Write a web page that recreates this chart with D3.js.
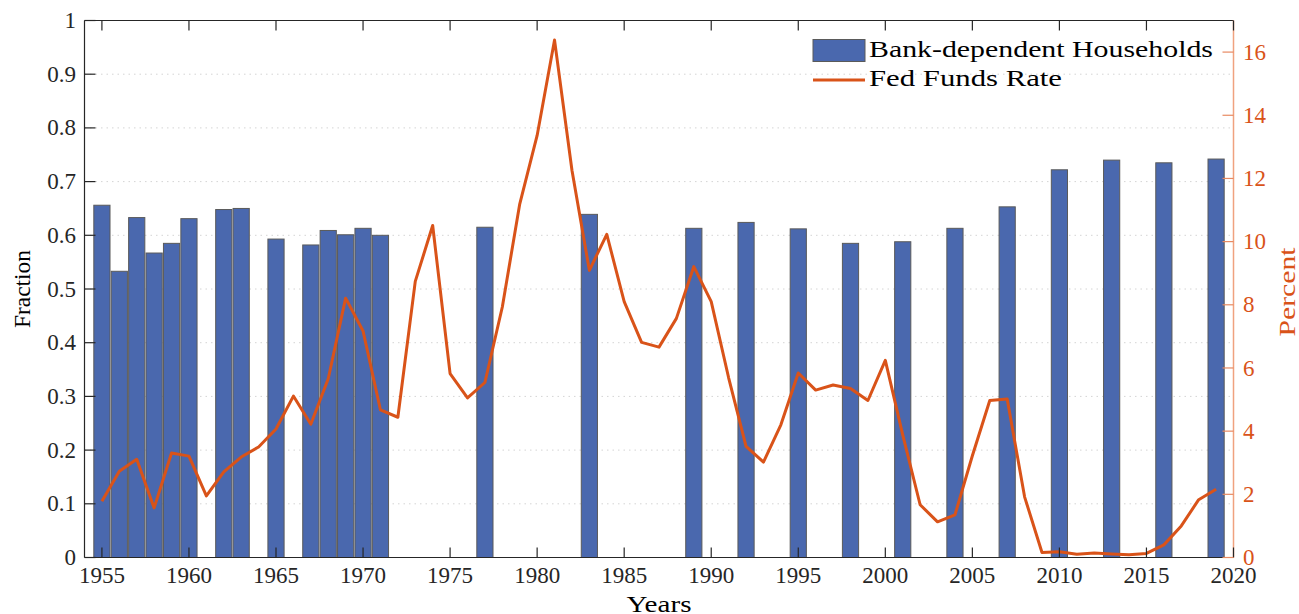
<!DOCTYPE html>
<html><head><meta charset="utf-8">
<script src="https://cdn.jsdelivr.net/npm/d3@7"></script>
<style>
html,body{margin:0;padding:0;background:#fff;}
svg{display:block;font-family:"Liberation Serif","Times New Roman",serif;}
</style></head>
<body>
<svg id="chart" width="1299" height="614"></svg>
<script>
// ---- data ----
const barYears = [1955,1956,1957,1958,1959,1960,1962,1963,1965,1967,1968,1969,1970,1971,1977,1983,1989,1992,1995,1998,2001,2004,2007,2010,2013,2016,2019];
const barValues = [0.656,0.533,0.633,0.567,0.585,0.631,0.648,0.650,0.593,0.582,0.609,0.601,0.613,0.600,0.615,0.639,0.613,0.624,0.612,0.585,0.588,0.613,0.653,0.722,0.740,0.735,0.742];
const rateYears = d3.range(1955, 2020);
const rateValues = [1.78,2.73,3.11,1.57,3.31,3.21,1.95,2.71,3.18,3.50,4.07,5.11,4.22,5.66,8.21,7.17,4.67,4.44,8.74,10.51,5.82,5.05,5.54,7.93,11.19,13.36,16.38,12.26,9.09,10.23,8.10,6.81,6.66,7.57,9.21,8.10,5.69,3.52,3.02,4.20,5.84,5.30,5.46,5.35,4.97,6.24,3.88,1.67,1.13,1.35,3.22,4.97,5.02,1.92,0.16,0.18,0.10,0.14,0.11,0.09,0.13,0.40,1.00,1.83,2.16];
const xTicks = [1955,1960,1965,1970,1975,1980,1985,1990,1995,2000,2005,2010,2015,2020];
const yLeftTicks = [0,0.1,0.2,0.3,0.4,0.5,0.6,0.7,0.8,0.9,1];
const yRightTicks = [0,2,4,6,8,10,12,14,16];
const legendLabels = ["Bank-dependent Households","Fed Funds Rate"];

// ---- layout ----
const L = 84.5, R = 1233.5, T = 20.5, B = 557.5;
const svg = d3.select("#chart");
const x = d3.scaleLinear().domain([1954, 2020]).range([L, R]);
const yL = d3.scaleLinear().domain([0, 1]).range([B, T]);
const yR = d3.scaleLinear().domain([0, 17]).range([B, T]);
const orange = "#D95319", lightOrange = "#F0A27F", axisCol = "#262626";
const fs = 23;

// grid
svg.append("g").selectAll("line").data(yLeftTicks.filter(d => d > 0 && d < 1)).join("line")
  .attr("x1", L).attr("x2", R).attr("y1", d => yL(d)).attr("y2", d => yL(d))
  .attr("stroke", "#d4d4d4").attr("stroke-width", 1).attr("stroke-dasharray", "1.5,4");

// bars
const bw = (x(1) - x(0)) * 0.93;
svg.append("g").selectAll("rect").data(barYears.map((y, i) => ({y, v: barValues[i]}))).join("rect")
  .attr("x", d => x(d.y) - bw / 2).attr("width", bw)
  .attr("y", d => yL(d.v)).attr("height", d => B - yL(d.v))
  .attr("fill", "#4A68AE").attr("stroke", "#5a5a5a").attr("stroke-width", 1);

// line
const line = d3.line().x((d, i) => x(rateYears[i])).y(d => yR(d));
svg.append("path").datum(rateValues).attr("d", line)
  .attr("fill", "none").attr("stroke", orange).attr("stroke-width", 3).attr("stroke-linejoin", "round");

// axes box
const ax = svg.append("g").attr("stroke", axisCol).attr("stroke-width", 1.2);
ax.append("line").attr("x1", L).attr("x2", R).attr("y1", T).attr("y2", T);
ax.append("line").attr("x1", L).attr("x2", R).attr("y1", B).attr("y2", B);
ax.append("line").attr("x1", L).attr("x2", L).attr("y1", T).attr("y2", B);
svg.append("line").attr("x1", R).attr("x2", R).attr("y1", T).attr("y2", B)
  .attr("stroke", lightOrange).attr("stroke-width", 1.5);

// x ticks (top and bottom, inward)
const tl = 10;
svg.append("g").selectAll("line").data(xTicks).join("line")
  .attr("x1", d => x(d)).attr("x2", d => x(d)).attr("y1", T).attr("y2", T + tl)
  .attr("stroke", axisCol).attr("stroke-width", 1.2);
svg.append("g").selectAll("line").data(xTicks).join("line")
  .attr("x1", d => x(d)).attr("x2", d => x(d)).attr("y1", B).attr("y2", B - tl)
  .attr("stroke", axisCol).attr("stroke-width", 1.2);
svg.append("g").selectAll("text").data(xTicks).join("text")
  .attr("x", d => x(d)).attr("y", 583).attr("text-anchor", "middle")
  .attr("font-size", fs).attr("fill", axisCol).text(d => d);

// left ticks
svg.append("g").selectAll("line").data(yLeftTicks).join("line")
  .attr("x1", L).attr("x2", L + 11).attr("y1", d => yL(d)).attr("y2", d => yL(d))
  .attr("stroke", axisCol).attr("stroke-width", 1.2);
svg.append("g").selectAll("text").data(yLeftTicks).join("text")
  .attr("x", 76).attr("y", d => yL(d)).attr("dy", "0.33em").attr("text-anchor", "end")
  .attr("font-size", fs).attr("fill", axisCol).text(d => d3.format("")(+d.toFixed(1)));

// right ticks
svg.append("g").selectAll("line").data(yRightTicks).join("line")
  .attr("x1", R).attr("x2", R - 11).attr("y1", d => yR(d)).attr("y2", d => yR(d))
  .attr("stroke", "#E88A62").attr("stroke-width", 1.2);
svg.append("g").selectAll("text").data(yRightTicks).join("text")
  .attr("x", 1243).attr("y", d => yR(d)).attr("dy", "0.33em").attr("text-anchor", "start")
  .attr("font-size", fs).attr("fill", orange).text(d => d);

// axis labels
svg.append("text").attr("transform", `translate(30,${(T + B) / 2}) rotate(-90)`)
  .attr("text-anchor", "middle").attr("font-size", fs).attr("fill", "#000")
  .attr("textLength", 78).attr("lengthAdjust", "spacingAndGlyphs").text("Fraction");
svg.append("text").attr("transform", `translate(1295,${(T + B) / 2 + 3}) rotate(-90)`)
  .attr("text-anchor", "middle").attr("font-size", fs).attr("fill", orange)
  .attr("textLength", 89).attr("lengthAdjust", "spacingAndGlyphs").text("Percent");
svg.append("text").attr("x", (L + R) / 2).attr("y", 612).attr("text-anchor", "middle")
  .attr("font-size", fs).attr("fill", "#000")
  .attr("textLength", 65).attr("lengthAdjust", "spacingAndGlyphs").text("Years");

// legend
const lg = svg.append("g");
lg.append("rect").attr("x", 813).attr("y", 39.5).attr("width", 52).attr("height", 22)
  .attr("fill", "#4A68AE").attr("stroke", "#5a5a5a").attr("stroke-width", 1);
lg.append("line").attr("x1", 813).attr("x2", 865).attr("y1", 80).attr("y2", 80)
  .attr("stroke", orange).attr("stroke-width", 3);
lg.append("text").attr("x", 869).attr("y", 57).attr("font-size", fs).attr("fill", "#000")
  .attr("textLength", 344).attr("lengthAdjust", "spacingAndGlyphs").text(legendLabels[0]);
lg.append("text").attr("x", 869).attr("y", 86).attr("font-size", fs).attr("fill", "#000")
  .attr("textLength", 193).attr("lengthAdjust", "spacingAndGlyphs").text(legendLabels[1]);
</script>
</body></html>
